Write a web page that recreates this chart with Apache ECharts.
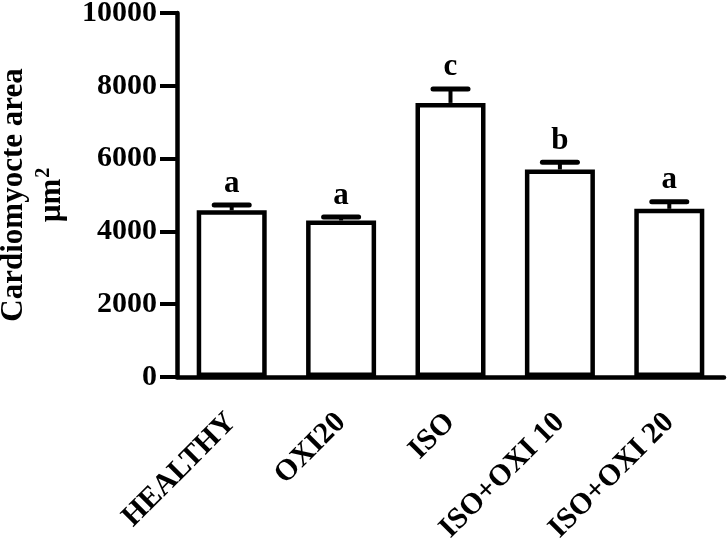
<!DOCTYPE html>
<html>
<head>
<meta charset="utf-8">
<script src="https://cdn.jsdelivr.net/npm/echarts@6/dist/echarts.min.js"></script>
<style>
html,body{margin:0;padding:0;background:#fff;}
#chart{width:728px;height:538px;}
</style>
</head>
<body>
<div id="chart"></div>
<script>
const categories = ['HEALTHY', 'OXI20', 'ISO', 'ISO+OXI 10', 'ISO+OXI 20'];
const means = [4580, 4300, 7530, 5700, 4620];
const errorTops = [4725, 4395, 7915, 5900, 4815];
const letters = ['a', 'a', 'c', 'b', 'a'];
const yTicks = { min: 0, max: 10000, interval: 2000 };

const FONT = '"Liberation Serif", "Times New Roman", serif';

const chart = echarts.init(document.getElementById('chart'), null, { renderer: 'canvas' });

const errData = categories.map((c, i) => [i, means[i], errorTops[i]]);

chart.setOption({
  animation: false,
  backgroundColor: '#ffffff',
  grid: { left: 177, right: 4, top: 13, bottom: 161, containLabel: false, outerBoundsMode: 'none' },
  xAxis: {
    type: 'category',
    data: categories,
    axisLine: { lineStyle: { color: '#000', width: 4.5 } },
    axisTick: { alignWithLabel: true, length: 11, lineStyle: { color: '#000', width: 4 } },
    axisLabel: {
      rotate: 45, margin: 41, color: '#000', fontFamily: FONT,
      fontWeight: 'bold', fontSize: 30, interval: 0
    }
  },
  yAxis: {
    type: 'value',
    min: yTicks.min, max: yTicks.max, interval: yTicks.interval,
    name: 'Cardiomyocte area\nµm{sup|2}',
    nameLocation: 'middle',
    nameGap: 104,
    nameTextStyle: {
      color: '#000', fontFamily: FONT, fontWeight: 'bold', fontSize: 31, lineHeight: 38, align: 'center',
      rich: {
        sup: { fontFamily: FONT, fontWeight: 'bold', fontSize: 20, color: '#000', lineHeight: 38, padding: [0, 0, 16, 1] }
      }
    },
    axisLine: { show: true, lineStyle: { color: '#000', width: 4.5 } },
    axisTick: { show: true, length: 17, lineStyle: { color: '#000', width: 4 } },
    axisLabel: {
      margin: 20, color: '#000', fontFamily: FONT, fontWeight: 'bold', fontSize: 30,
      formatter: function (v) { return String(v); }
    },
    splitLine: { show: false }
  },
  series: [
    {
      type: 'bar',
      data: means,
      barWidth: 70,
      itemStyle: { color: '#fff', borderColor: '#000', borderWidth: 4.5 },
      z: 2
    },
    {
      type: 'custom',
      data: errData,
      z: 3,
      renderItem: function (params, api) {
        const i = api.value(0);
        const p0 = api.coord([i, api.value(1)]);
        const p1 = api.coord([i, api.value(2)]);
        return {
          type: 'group',
          children: [
            { type: 'line', shape: { x1: p0[0], y1: p0[1], x2: p1[0], y2: p1[1] }, style: { stroke: '#000', lineWidth: 4 } },
            { type: 'line', shape: { x1: p1[0] - 17.5, y1: p1[1], x2: p1[0] + 17.5, y2: p1[1] }, style: { stroke: '#000', lineWidth: 5, lineCap: 'round' } },
            { type: 'text', x: p1[0], y: p1[1] - 6, style: { text: letters[i], fill: '#000', font: 'bold 31px ' + FONT, align: 'center', verticalAlign: 'bottom' } }
          ]
        };
      }
    }
  ]
});
</script>
</body>
</html>
